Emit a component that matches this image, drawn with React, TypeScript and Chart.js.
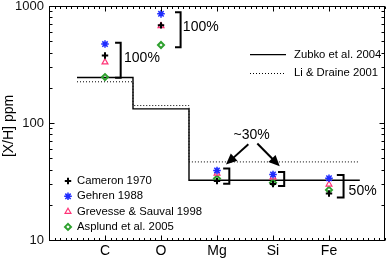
import React, { useEffect, useRef } from 'react';
import { Chart, registerables } from 'chart.js';

Chart.register(...registerables);

// ---------- data ----------
const categories = ['C', 'O', 'Mg', 'Si', 'Fe'];
const catPos = [1, 2, 3, 4, 5];

const cameron = [378, 683, 31.9, 30.1, 25];
const gehren = [473, 857, 39.3, 36.3, 33.7];
const grevesse = [331, 676, 37, 34.5, 29.9];
const asplund = [247, 464, 33.5, 30.9, 26.8];

const stepEdges = [0.5, 1.5, 2.5, 5.55];
const zubko = [245, 132, 32.4, 32.4];
const liDraine = [225, 141, 46.5, 46.5];

const yMajorTicks = [10, 100, 1000];

// bracket annotations (data units): [x0, x1], [yTop, yBottom]
const bracketX = [[1.18, 1.28], [2.25, 2.35], [3.11, 3.22], [4.09, 4.2], [5.14, 5.26]];
const bracketY = [[486, 244], [885, 444], [40.8, 30.3], [38.2, 29], [35.9, 23.1]];
const bracketText = ['100%', '100%', '', '', '50%'];
const bracketTextPos = [[1.34, 359], [2.39, 662], null, null, [5.35, 26.3]];

// arrows (data units)
const arrowFrom = [[3.56, 65.8], [3.72, 66.7]];
const arrowTo = [[3.16, 44.2], [4.12, 42.7]];
const arrowText = '~30%';
const arrowTextPos = [3.62, 79.3];

const FONT = '"Liberation Sans", Arial, Helvetica, sans-serif';

const COL_CAM = '#000000';
const COL_GEH = '#1f2cff';
const COL_GRE = '#ff3377';
const COL_ASP = '#2ea02e';

const R_CAM = 3.2;
const R_GEH = 3.8;
const R_GRE = 3.4;
const R_ASP = 3;

function drawMarker(ctx: CanvasRenderingContext2D, style: string, x: number, y: number, r: number, color: string, lw: number) {
  ctx.save();
  ctx.strokeStyle = color;
  ctx.lineWidth = lw;
  ctx.beginPath();
  if (style === 'cross') {
    ctx.moveTo(x - r, y); ctx.lineTo(x + r, y);
    ctx.moveTo(x, y - r); ctx.lineTo(x, y + r);
  } else if (style === 'star') {
    ctx.moveTo(x - r, y); ctx.lineTo(x + r, y);
    ctx.moveTo(x, y - r); ctx.lineTo(x, y + r);
    const d = r * 0.707;
    ctx.moveTo(x - d, y - d); ctx.lineTo(x + d, y + d);
    ctx.moveTo(x - d, y + d); ctx.lineTo(x + d, y - d);
  } else if (style === 'triangle') {
    ctx.moveTo(x, y - r);
    ctx.lineTo(x + r * 0.866, y + r * 0.5);
    ctx.lineTo(x - r * 0.866, y + r * 0.5);
    ctx.closePath();
  } else if (style === 'rectRot') {
    ctx.moveTo(x, y - r); ctx.lineTo(x + r, y); ctx.lineTo(x, y + r); ctx.lineTo(x - r, y);
    ctx.closePath();
  }
  ctx.stroke();
  ctx.restore();
}

const markerLegend = [
  { label: 'Cameron 1970', style: 'cross', color: COL_CAM, lw: 2, r: R_CAM },
  { label: 'Gehren 1988', style: 'star', color: COL_GEH, lw: 1.5, r: R_GEH },
  { label: 'Grevesse & Sauval 1998', style: 'triangle', color: COL_GRE, lw: 1.2, r: R_GRE },
  { label: 'Asplund et al. 2005', style: 'rectRot', color: COL_ASP, lw: 2, r: R_ASP },
];

const annotPlugin = {
  id: 'annot',
  afterDatasetsDraw(chart: any) {
    const { ctx, chartArea: ca, scales } = chart;
    const xs = scales.x;
    const ys = scales.y;
    const px = (v: number) => xs.getPixelForValue(v);
    const py = (v: number) => ys.getPixelForValue(v);
    ctx.save();

    // frame
    const L = Math.floor(ca.left) + 0.5;
    const R = Math.ceil(ca.right) - 0.5;
    const T = Math.floor(ca.top) + 0.5;
    const B = Math.floor(ca.bottom) + 0.5;
    ctx.strokeStyle = '#000';
    ctx.lineWidth = 1;
    ctx.strokeRect(L, T, R - L, B - T);

    // x ticks (inward, top and bottom)
    ctx.beginPath();
    for (let i = 0; i <= 60; i++) {
      const v = i / 10;
      const major = i % 10 === 0 && v >= 1 && v <= 5;
      const len = major ? 5 : 2.5;
      const xx = Math.round(px(v)) + 0.5;
      ctx.moveTo(xx, B); ctx.lineTo(xx, B - len);
      ctx.moveTo(xx, T); ctx.lineTo(xx, T + len);
    }
    // y ticks (inward, left and right)
    for (let d = 0; d < yMajorTicks.length; d++) {
      const base = yMajorTicks[d];
      for (let m = 1; m <= 9; m++) {
        const v = base * m;
        if (v > 1000) break;
        const len = m === 1 ? 5 : 3;
        const yy = Math.round(py(v)) + 0.5;
        ctx.moveTo(L, yy); ctx.lineTo(L + len, yy);
        ctx.moveTo(R, yy); ctx.lineTo(R - len, yy);
      }
    }
    ctx.stroke();

    // brackets
    ctx.lineWidth = 2;
    ctx.strokeStyle = '#000';
    ctx.lineJoin = 'miter';
    ctx.lineCap = 'butt';
    bracketX.forEach((bx, i) => {
      const x0 = px(bx[0]);
      const x1 = px(bx[1]);
      const y0 = py(bracketY[i][0]);
      const y1 = py(bracketY[i][1]);
      ctx.beginPath();
      ctx.moveTo(x0, y0); ctx.lineTo(x1, y0); ctx.lineTo(x1, y1); ctx.lineTo(x0, y1);
      ctx.stroke();
    });
    ctx.fillStyle = '#000';
    ctx.font = `14px ${FONT}`;
    ctx.textAlign = 'left';
    ctx.textBaseline = 'middle';
    bracketText.forEach((t, i) => {
      const p = bracketTextPos[i];
      if (!t || !p) return;
      ctx.fillText(t, px(p[0]), py(p[1]));
    });

    // arrows
    arrowFrom.forEach((f, i) => {
      const x0 = px(f[0]);
      const y0 = py(f[1]);
      const x1 = px(arrowTo[i][0]);
      const y1 = py(arrowTo[i][1]);
      const ang = Math.atan2(y1 - y0, x1 - x0);
      const hl = 11;
      const hw = 5;
      const bx = x1 - hl * Math.cos(ang);
      const by = y1 - hl * Math.sin(ang);
      ctx.beginPath();
      ctx.moveTo(x0, y0);
      ctx.lineTo(bx + 3 * Math.cos(ang), by + 3 * Math.sin(ang));
      ctx.lineWidth = 2;
      ctx.stroke();
      ctx.beginPath();
      ctx.moveTo(x1, y1);
      ctx.lineTo(bx + hw * Math.sin(ang), by - hw * Math.cos(ang));
      ctx.lineTo(bx - hw * Math.sin(ang), by + hw * Math.cos(ang));
      ctx.closePath();
      ctx.fill();
    });
    ctx.textAlign = 'center';
    ctx.fillText(arrowText, px(arrowTextPos[0]), py(arrowTextPos[1]));

    // line legend
    ctx.font = `11.3px ${FONT}`;
    ctx.textAlign = 'left';
    const lx0 = ca.left + 201;
    const lx1 = ca.left + 237;
    const ltx = ca.left + 245;
    const ly = [ca.top + 48.7, ca.top + 67];
    ctx.lineWidth = 1.3;
    ctx.beginPath();
    ctx.moveTo(lx0, ly[0]); ctx.lineTo(lx1, ly[0]);
    ctx.stroke();
    ctx.lineWidth = 1;
    ctx.setLineDash([1, 2]);
    ctx.beginPath();
    ctx.moveTo(lx0, Math.round(ly[1]) + 0.5); ctx.lineTo(lx1, Math.round(ly[1]) + 0.5);
    ctx.stroke();
    ctx.setLineDash([]);
    ctx.fillText('Zubko et al. 2004', ltx, ly[0]);
    ctx.fillText('Li & Draine 2001', ltx, ly[1]);

    // marker legend
    markerLegend.forEach((m, i) => {
      const yy = ca.top + 175 + i * 15.3;
      drawMarker(ctx, m.style, ca.left + 19, yy, m.r, m.color, m.lw);
      ctx.fillStyle = '#000';
      ctx.fillText(m.label, ca.left + 28, yy);
    });

    // y title
    ctx.save();
    ctx.font = `14px ${FONT}`;
    ctx.textAlign = 'center';
    ctx.textBaseline = 'middle';
    ctx.translate(9, (ca.top + ca.bottom) / 2 + 3);
    ctx.rotate(-Math.PI / 2);
    ctx.fillText('[X/H] ppm', 0, 0);
    ctx.restore();

    ctx.restore();
  },
};

const pts = (ys: number[]) => ys.map((v, i) => ({ x: catPos[i], y: v }));
const stepPts = (ys: number[]) => ys.map((v, i) => ({ x: stepEdges[i], y: v }));

export default function App() {
  const ref = useRef<HTMLCanvasElement | null>(null);
  useEffect(() => {
    if (!ref.current) return;
    const chart = new Chart(ref.current, {
      type: 'scatter',
      data: {
        datasets: [
          { label: 'Cameron 1970', data: pts(cameron), pointStyle: 'cross', pointRadius: R_CAM, borderWidth: 2, borderColor: COL_CAM, backgroundColor: COL_CAM } as any,
          { label: 'Gehren 1988', data: pts(gehren), pointStyle: 'star', pointRadius: R_GEH, borderWidth: 1.5, borderColor: COL_GEH, backgroundColor: COL_GEH } as any,
          { label: 'Grevesse & Sauval 1998', data: pts(grevesse), pointStyle: 'triangle', pointRadius: R_GRE, borderWidth: 1.2, borderColor: COL_GRE, backgroundColor: 'rgba(255,255,255,0)' } as any,
          { label: 'Asplund et al. 2005', data: pts(asplund), pointStyle: 'rectRot', pointRadius: R_ASP, borderWidth: 2, borderColor: COL_ASP, backgroundColor: 'rgba(255,255,255,0)' } as any,
          { type: 'line', label: 'Zubko et al. 2004', data: stepPts(zubko), stepped: true, borderColor: '#000', borderWidth: 1.4, pointRadius: 0, fill: false } as any,
          { type: 'line', label: 'Li & Draine 2001', data: stepPts(liDraine), stepped: true, borderColor: '#000', borderWidth: 1, borderDash: [1, 2], pointRadius: 0, fill: false } as any,
        ],
      },
      options: {
        animation: false,
        responsive: false,
        layout: { padding: { top: 2, right: 1, left: 0, bottom: 0 } },
        plugins: { legend: { display: false }, tooltip: { enabled: false } },
        scales: {
          x: {
            type: 'linear',
            min: 0,
            max: 6,
            grid: { display: false, drawTicks: false },
            border: { display: false },
            ticks: {
              stepSize: 1,
              autoSkip: false,
              maxRotation: 0,
              padding: 3,
              color: '#000',
              font: { size: 14, family: FONT },
              callback: (v: any) => categories[catPos.indexOf(Number(v))] ?? '',
            },
            afterFit: (s: any) => { s.height = 23; s.paddingLeft = 0; s.paddingRight = 0; },
          },
          y: {
            type: 'logarithmic',
            min: 10,
            max: 1000,
            grid: { display: false, drawTicks: false },
            border: { display: false },
            ticks: {
              autoSkip: false,
              padding: 5,
              color: '#111',
              font: { size: 13, family: FONT },
              callback: (v: any) => (yMajorTicks.includes(Number(v)) ? String(v) : ''),
            },
            afterFit: (s: any) => { s.width = 49; s.paddingTop = 0; s.paddingBottom = 0; },
          },
        },
      },
      plugins: [annotPlugin],
    });
    return () => chart.destroy();
  }, []);
  return (
    <div style={{ position: 'absolute', left: 0, top: 0, width: 391, height: 263, background: '#fff' }}>
      <canvas ref={ref} width={391} height={263} style={{ display: 'block', width: 391, height: 263 }} />
    </div>
  );
}
